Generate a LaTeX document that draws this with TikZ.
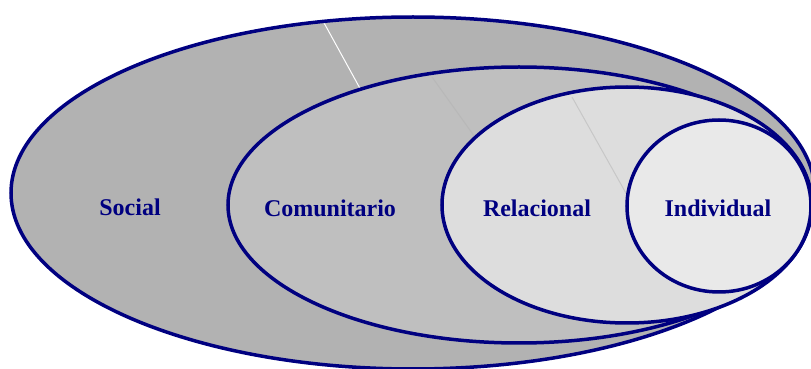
\documentclass[tikz,border=0pt]{standalone}
\usepackage{fontspec}
\setmainfont{Liberation Serif}
\usepackage{tikz}
\definecolor{rimblue}{HTML}{000080}
\definecolor{socialgray}{HTML}{B2B2B2}
\definecolor{comugray}{HTML}{BFBFBF}
\definecolor{relgray}{HTML}{DDDDDD}
\definecolor{indivgray}{HTML}{E9E9E9}
\begin{document}
\begin{tikzpicture}[x=0.5pt,y=-0.5pt]
 \tikzstyle{ring} = [draw=rimblue,line width=1.75pt]
 \tikzstyle{levelname} = [font=\bfseries\fontsize{12}{14}\selectfont,text=rimblue,inner sep=0]
 \tikzstyle{seam} = [line width=0.5pt]

  \useasboundingbox (0,0) rectangle (811,369);

  % Social
  \fill[socialgray] (413,193) ellipse [x radius=402,y radius=176];
  \draw[seam,white] (323,21) -- (362,92);
  \draw[ring] (413,193) ellipse [x radius=402,y radius=176];

  % Comunitario
  \fill[comugray] (519,205) ellipse [x radius=291,y radius=138];
  \draw[seam,black!28] (432,77) -- (477,140);
  \draw[ring] (519,205) ellipse [x radius=291,y radius=138];

  % Relacional
  \fill[relgray] (627,205) ellipse [x radius=185,y radius=118];
  \draw[seam,black!22] (572,97) -- (627,195);
  \draw[ring] (627,205) ellipse [x radius=185,y radius=118];

  % Individual
  \draw[ring,fill=indivgray] (719,206) ellipse [x radius=92,y radius=86];

  % Labels
  \node[levelname] (social) at (130,207) {Social};
  \node[levelname] (comunitario) at (330,208) {Comunitario};
  \node[levelname] (relacional) at (537,208) {Relacional};
  \node[levelname] (individual) at (718,208) {Individual};

\end{tikzpicture}
\end{document}
